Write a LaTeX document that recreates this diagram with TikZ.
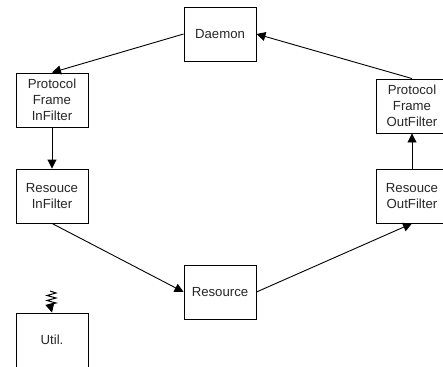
\documentclass[tikz,border=0pt]{standalone}
\usepackage{fontspec}
\setmainfont{Liberation Sans}
\usetikzlibrary{arrows.meta}
\tikzset{
  box/.style={draw=black,line width=0.9pt,minimum width=72pt,minimum height=54pt,inner sep=0pt,align=center,
    font=\fontsize{13.2pt}{16pt}\selectfont,text=black!85},
  link/.style={draw=black,line width=0.9pt,-{Triangle[length=9pt,width=9pt]},shorten >=0pt},
}
\begin{document}
\begin{tikzpicture}[x=1pt,y=-1pt]
\useasboundingbox (0,0) rectangle (443,366);
\clip (0,0) rectangle (443,366);
\node[box] (daemon) at (220,34) {Daemon};
\node[box] (pin) at (52,100) {Protocol\\Frame\\InFilter};
\node[box] (rin) at (52,196) {Resouce\\InFilter};
\node[box] (res) at (220,292) {Resource};
\node[box] (rout) at (412,196) {Resouce\\OutFilter};
\node[box] (pout) at (412,106) {Protocol\\Frame\\OutFilter};
\node[box] (util) at (52,340) {Util.};
\coordinate (sq) at (50,291);
\draw[link] (daemon.west) -- (pin.north);
\draw[link] (pin.south) -- (rin.north);
\draw[link] (rin.south) -- (res.west);
\draw[link] (res.east) -- (rout.south);
\draw[link] (rout.north) -- (pout.south);
\draw[link] (pout.north) -- (daemon.east);
\draw[link,line width=1pt] (sq) -- ++(6,2) -- ++(-9,2.5) -- ++(9,2.5) -- ++(-9,2.5) -- ++(9,2.5) -- ++(-6,1.5) -- (util.north);
\end{tikzpicture}
\end{document}
